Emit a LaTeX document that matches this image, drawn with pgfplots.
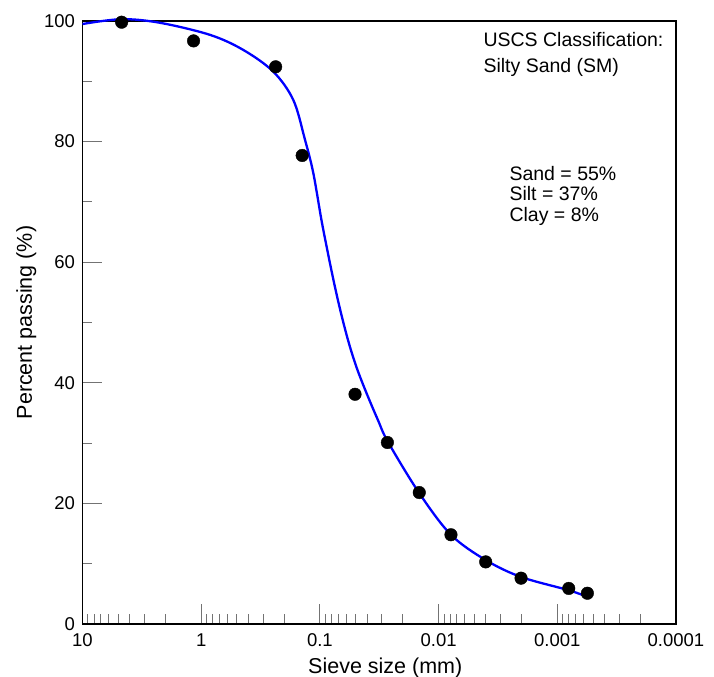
\documentclass[border=0pt]{standalone}
\usepackage{fontspec}
\setmainfont{Liberation Sans}
\usepackage{pgfplots}
\pgfplotsset{compat=1.18}
\begin{document}
\begin{tikzpicture}
\begin{axis}[
  scale only axis,
  width=593.5bp, height=603bp,
  xmode=log, x dir=reverse,
  xmin=0.0001, xmax=10,
  ymin=0, ymax=100,
  clip=false,
  xtick={10,1,0.1,0.01,0.001,0.0001},
  xticklabels={10,1,0.1,0.01,0.001,0.0001},
  minor xtick={2,3,4,5,6,7,8,9,
    0.2,0.3,0.4,0.5,0.6,0.7,0.8,0.9,
    0.02,0.03,0.04,0.05,0.06,0.07,0.08,0.09,
    0.002,0.003,0.004,0.005,0.006,0.007,0.008,0.009,
    0.0002,0.0003,0.0004,0.0005,0.0006,0.0007,0.0008,0.0009},
  ytick={0,20,40,60,80,100},
  minor ytick={10,30,50,70,90},
  tick pos=left, tick align=inside,
  major tick length=20bp, minor tick length=10bp,
  tick style={black!55, line width=1bp},
  axis line style={line width=1.7bp},
  /pgf/number format/assume math mode=true,
  ticklabel style={font=\fontsize{18.5bp}{20bp}\selectfont},
  xticklabel style={yshift=-6bp},
  yticklabel style={xshift=-4bp},
  xlabel={Sieve size (mm)},
  ylabel={Percent passing (\%)},
  label style={font=\fontsize{21.5bp}{24bp}\selectfont},
  x label style={at={(axis description cs:0.5101,-0.0813)}, anchor=base},
  y label style={at={(axis description cs:-0.0851,0.5)}, anchor=base},
]
% fitted gradation curve
\addplot[blue, line width=2.3bp, smooth, tension=0.55] coordinates {
  (10,99.5) (4.68,100.3) (2.22,99.7) (0.843,97.7) (0.442,95.2)
  (0.247,91.6) (0.1675,86.9) (0.1335,80.3) (0.1137,74.8)
  (0.0960,66.5) (0.0791,58.2) (0.0684,52.6) (0.0580,47.1) (0.0492,42.6)
  (0.0405,38.3) (0.0324,33.8) (0.0267,30.2) (0.01455,21.7) (0.00787,14.8)
  (0.00401,10.6) (0.00202,7.8) (0.000802,5.6) (0.000558,4.5)
};
% measured points
\addplot[only marks, mark=*, mark size=6.3bp, black] coordinates {
  (4.68,99.8) (1.16,96.7) (0.236,92.4) (0.141,77.7) (0.0506,38.1)
  (0.0270,30.1) (0.01455,21.8) (0.00787,14.8) (0.00401,10.3)
  (0.00202,7.6) (0.000801,5.9) (0.000558,5.1)
};
\node[anchor=base west, font=\fontsize{19.5bp}{22bp}\selectfont]
  at (axis description cs:0.6698,0.9569) {USCS Classification:};
\node[anchor=base west, font=\fontsize{19.5bp}{22bp}\selectfont]
  at (axis description cs:0.6698,0.9154) {Silty Sand (SM)};
\node[anchor=base west, font=\fontsize{19.5bp}{22bp}\selectfont]
  at (axis description cs:0.7136,0.7363) {Sand = 55\%};
\node[anchor=base west, font=\fontsize{19.5bp}{22bp}\selectfont]
  at (axis description cs:0.7136,0.7015) {Silt = 37\%};
\node[anchor=base west, font=\fontsize{19.5bp}{22bp}\selectfont]
  at (axis description cs:0.7136,0.6683) {Clay = 8\%};
\coordinate (bl) at (axis description cs:0,0);
\coordinate (tr) at (axis description cs:1,1);
\end{axis}
\pgfresetboundingbox
\path ([xshift=-82.5bp,yshift=-53bp]bl) rectangle ([xshift=38bp,yshift=21bp]tr);
\end{tikzpicture}
\end{document}
